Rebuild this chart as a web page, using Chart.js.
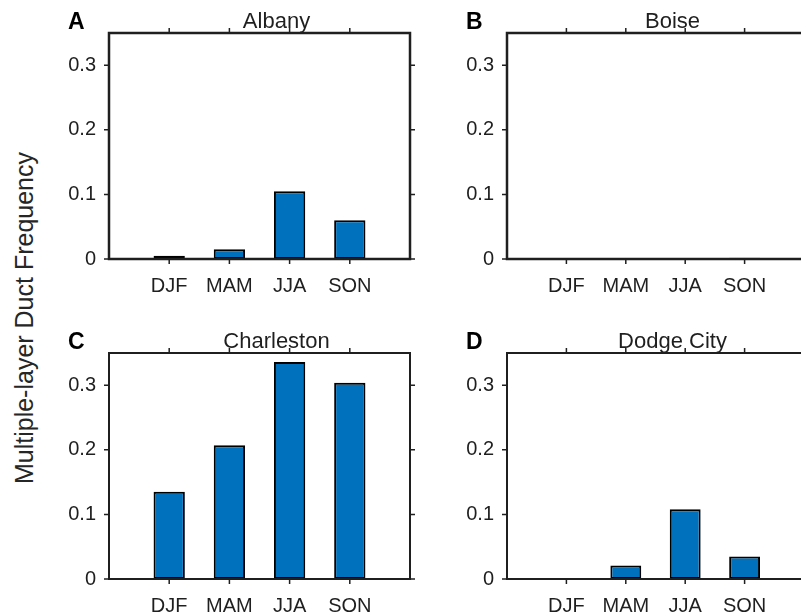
<!DOCTYPE html>
<html>
<head>
<meta charset="utf-8">
<script src="https://cdn.jsdelivr.net/npm/chart.js@4.4.1/dist/chart.umd.min.js"></script>
<style>
body{margin:0;width:801px;height:616px;overflow:hidden;background:#fff;position:relative;font-family:'Liberation Sans',Arial,sans-serif;color:#262626}
canvas{position:absolute}
#ylab{position:absolute;left:24px;top:318px;font-size:25px;line-height:25px;white-space:nowrap;transform:translate(-50%,-50%) rotate(-90deg)}
</style>
</head>
<body>
<canvas id="pA" width="380" height="308" style="left:40px;top:0px"></canvas>
<canvas id="pB" width="376" height="308" style="left:438px;top:0px"></canvas>
<canvas id="pC" width="380" height="306" style="left:40px;top:310px"></canvas>
<canvas id="pD" width="376" height="306" style="left:438px;top:310px"></canvas>
<div id="ylab">Multiple-layer Duct Frequency</div>
<script>
'use strict';
// data
let seasons=['DJF','MAM','JJA','SON'];
let yTicks=[0,0.1,0.2,0.3];
let albany=[0.005,0.015,0.105,0.060];
let boise=[0.0005,0,0.001,0.002];
let charleston=[0.135,0.207,0.336,0.304];
let dodgeCity=[0.001,0.021,0.108,0.035];

let fontFam="'Liberation Sans', Arial, sans-serif";
let ink='#1f1f1f';

let panels=[
  {id:'pA',letter:'A',title:'Albany',vals:albany,padTop:33,xh:49,lw:2.5},
  {id:'pB',letter:'B',title:'Boise',vals:boise,padTop:33,xh:49,lw:2.5},
  {id:'pC',letter:'C',title:'Charleston',vals:charleston,padTop:43,xh:37,lw:2},
  {id:'pD',letter:'D',title:'Dodge City',vals:dodgeCity,padTop:43,xh:37,lw:2}
];

// box, outward ticks on all four sides, title and panel letter
let framePlugin={
  id:'frame',
  afterDatasetsDraw(chart,args,opts){
    let ctx=chart.ctx, a=chart.chartArea;
    let xs=chart.scales.x, ys=chart.scales.y;
    ctx.save();
    ctx.strokeStyle=ink;
    ctx.lineWidth=opts.lw;
    ctx.strokeRect(a.left,a.top,a.right-a.left,a.bottom-a.top);
    ctx.lineWidth=1.5;
    ctx.beginPath();
    xs.ticks.forEach(t=>{
      let px=xs.getPixelForValue(t.value);
      ctx.moveTo(px,a.bottom);ctx.lineTo(px,a.bottom+5);
      ctx.moveTo(px,a.top);ctx.lineTo(px,a.top-5);
    });
    ys.ticks.forEach(t=>{
      let py=ys.getPixelForValue(t.value);
      ctx.moveTo(a.left,py);ctx.lineTo(a.left-5,py);
      ctx.moveTo(a.right,py);ctx.lineTo(a.right+5,py);
    });
    ctx.stroke();
    ctx.fillStyle=ink;
    ctx.textBaseline='alphabetic';
    ctx.textAlign='center';
    ctx.font='22px '+fontFam;
    ctx.fillText(opts.title,(a.left+a.right)/2+17,a.top-5);
    ctx.fillStyle='#000';
    ctx.textAlign='left';
    ctx.font='bold 23px '+fontFam;
    ctx.fillText(opts.letter,a.left-41,a.top-4);
    ctx.restore();
  }
};

panels.forEach(p=>{
  let ctx=document.getElementById(p.id).getContext('2d');
  new Chart(ctx,{
    type:'bar',
    data:{
      datasets:[{
        data:p.vals.map((v,i)=>({x:i+1,y:v})),
        backgroundColor:'#0072BD',
        borderColor:'#000',
        borderWidth:2,
        borderSkipped:false,
        barPercentage:0.52,
        categoryPercentage:1
      }]
    },
    options:{
      responsive:false,
      animation:false,
      layout:{padding:{top:p.padTop,right:10,left:0,bottom:0}},
      plugins:{
        legend:{display:false},
        tooltip:{enabled:false},
        frame:{lw:p.lw,title:p.title,letter:p.letter}
      },
      scales:{
        x:{
          type:'linear',min:0,max:5,offset:false,
          afterBuildTicks:s=>{s.ticks=seasons.map((_,i)=>({value:i+1}));},
          afterFit:s=>{s.height=p.xh;},
          ticks:{callback:v=>seasons[v-1],color:ink,font:{size:20,family:fontFam},padding:15,maxRotation:0,autoSkip:false},
          grid:{display:false,drawTicks:false,offset:false},
          border:{display:false}
        },
        y:{
          min:0,max:0.35,
          afterBuildTicks:s=>{s.ticks=yTicks.map(v=>({value:v}));},
          afterFit:s=>{s.width=69;},
          ticks:{callback:v=>v===0?'0':v.toFixed(1),color:ink,font:{size:20,family:fontFam},padding:13},
          grid:{display:false,drawTicks:false},
          border:{display:false}
        }
      }
    },
    plugins:[framePlugin]
  });
});
</script>
</body>
</html>
